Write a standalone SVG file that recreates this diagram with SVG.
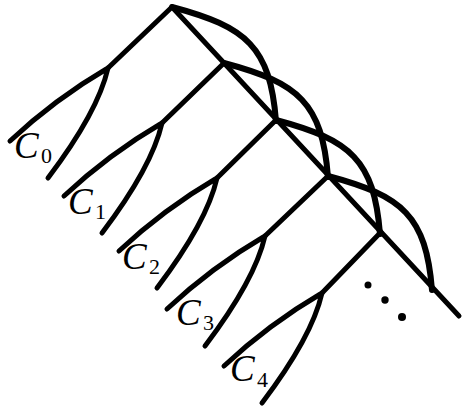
<svg xmlns="http://www.w3.org/2000/svg" xmlns:xlink="http://www.w3.org/1999/xlink" width="468" height="414" viewBox="0 0 468 414">
<style>
.ln{fill:none;stroke:#000;stroke-width:5;stroke-linecap:round;stroke-linejoin:round}
.cv{fill:none;stroke:#000;stroke-width:6;stroke-linecap:round}
.lbl{font-family:"Liberation Serif","DejaVu Serif",serif;font-style:italic;font-size:37px;fill:#000}
.sub{font-family:"Liberation Serif","DejaVu Serif",serif;font-size:22px;fill:#000}
</style>
<defs>
<path id="fork" d="M0,0 Q-53,31 -98,73 M0,0 Q-10,44 -60,110"/>
<path id="arc" d="M0,0 C75,20 98,40 104,114"/>
</defs>
<rect width="468" height="414" fill="#fff"/>
<g id="connectors">
<path class="ln" d="M172,7 L459,316"/>
<use href="#arc" class="cv" transform="translate(172,7)"/>
<use href="#arc" class="cv" transform="translate(224,63)"/>
<use href="#arc" class="cv" transform="translate(276,120)"/>
<use href="#arc" class="cv" transform="translate(328,176)"/>
</g>
<g id="C0">
<path class="ln" d="M172,7 L108,68"/>
<use href="#fork" class="ln" transform="translate(108,68)"/>
<text class="lbl" x="14" y="158">C</text><text class="sub" x="41" y="163">0</text>
</g>
<g id="C1">
<path class="ln" d="M224,63 L162,123"/>
<use href="#fork" class="ln" transform="translate(162,123)"/>
<text class="lbl" x="68" y="214">C</text><text class="sub" x="95" y="219">1</text>
</g>
<g id="C2">
<path class="ln" d="M276,120 L217,178"/>
<use href="#fork" class="ln" transform="translate(217,178)"/>
<text class="lbl" x="122" y="269">C</text><text class="sub" x="149" y="274">2</text>
</g>
<g id="C3">
<path class="ln" d="M328,176 L265,236"/>
<use href="#fork" class="ln" transform="translate(265,236)"/>
<text class="lbl" x="176" y="325">C</text><text class="sub" x="203" y="330">3</text>
</g>
<g id="C4">
<path class="ln" d="M381,232 L322,293"/>
<use href="#fork" class="ln" transform="translate(322,293)"/>
<text class="lbl" x="230" y="381">C</text><text class="sub" x="257" y="387">4</text>
</g>
<g id="dots">
<circle cx="368" cy="285" r="3.5"/>
<circle cx="385" cy="300" r="3.7"/>
<circle cx="402" cy="317" r="4"/>
</g>
</svg>
